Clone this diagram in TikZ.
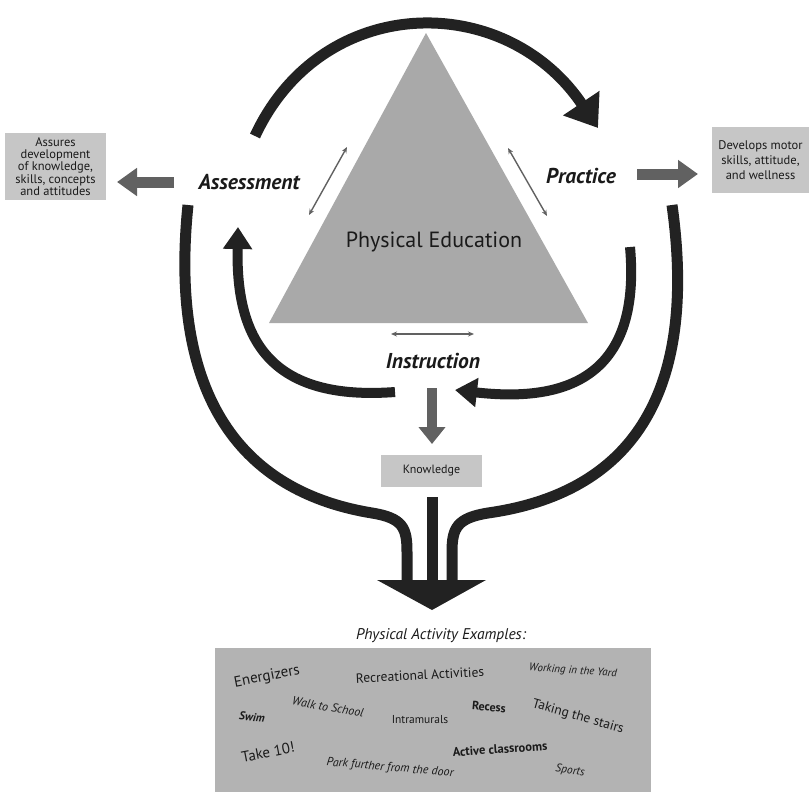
\documentclass[tikz,border=0pt]{standalone}
\usepackage{fontspec}
\setmainfont{PT Sans}
\usetikzlibrary{arrows.meta}
\definecolor{trif}{HTML}{A9A9A9}
\definecolor{boxf}{HTML}{C6C6C6}
\definecolor{bigbox}{HTML}{B3B3B3}
\definecolor{garr}{HTML}{616161}
\definecolor{blk}{HTML}{222222}
\definecolor{txt}{HTML}{1A1A1A}
\tikzset{
  fs/.style={font=\fontsize{#1}{#1}\selectfont},
  fsi/.style={font=\fontsize{#1}{#1}\selectfont\itshape},
  fsb/.style={font=\fontsize{#1}{#1}\selectfont\bfseries},
  fsbi/.style={font=\fontsize{#1}{#1}\selectfont\bfseries\itshape},
  keyword/.style={text=txt, fsbi=21.5, inner sep=0pt, anchor=base},
  sidebox/.style={fill=boxf, text=txt, align=center, inner sep=0pt},
  bigarrow/.style={draw=blk, line width=11pt},
  grayarr/.style={draw=garr, line width=11pt, -{Triangle[width=27pt,length=20pt]}},
  thinarr/.style={draw=garr, line width=1.4pt, {Stealth[length=6pt,width=5pt]}-{Stealth[length=6pt,width=5pt]}},
  ex/.style={text=txt, inner sep=0pt}
}
\begin{document}
\begin{tikzpicture}[x=1pt,y=-1pt]
\useasboundingbox (0,0) rectangle (809,793);
% triangle
\coordinate (apex) at (426,33);
\coordinate (bl) at (269,323);
\coordinate (br) at (588,323);
\fill[trif] (apex) -- (bl) -- (br) -- cycle;
\node[text=txt, fs=22, inner sep=0pt, anchor=base] (pe) at (434,247) {Physical Education};

% keywords
\node[keyword] (assess) at (249,189) {Assessment};
\node[keyword] (prac) at (581,183) {Practice};
\node[keyword] (instr) at (433,368) {Instruction};

% side boxes
\node[sidebox, minimum width=101pt, minimum height=67pt, font=\fontsize{12.5}{12.3}\selectfont] (lbox) at (55.5,166.5) {Assures\\development\\of knowledge,\\skills, concepts\\and attitudes};
\node[sidebox, minimum width=98pt, minimum height=66pt, font=\fontsize{12.5}{15}\selectfont] (rbox) at (760.5,160) {Develops motor\\skills, attitude,\\and wellness};
\node[sidebox, minimum width=101pt, minimum height=32pt, fs=12] (know) at (431.5,471) {Knowledge};

% gray arrows
\coordinate (lga1) at (174,182);
\coordinate (lga2) at (117,182);
\coordinate (rga1) at (637,174);
\coordinate (rga2) at (698,174);
\draw[grayarr] (lga1) -- (lga2);
\draw[grayarr] (rga1) -- (rga2);
\coordinate (ktop) at (432,388);
\coordinate (kbot) at (432,444);
\draw[draw=garr, line width=10pt, -{Triangle[width=26pt,length=17pt]}] (ktop) -- (kbot);

% thin double arrows
\coordinate (la1) at (347,147); \coordinate (la2) at (309,215);
\coordinate (ra1) at (508,148); \coordinate (ra2) at (547,216);
\coordinate (ba1) at (391,334); \coordinate (ba2) at (474,334);
\draw[thinarr] (la1) -- (la2);
\draw[thinarr] (ra1) -- (ra2);
\draw[thinarr] (ba1) -- (ba2);

% top arc
\coordinate (ta1) at (255,136);
\coordinate (ta2) at (598,128);
\draw[bigarrow, -{Triangle[width=42pt,length=30pt]}] (ta1) .. controls (322,-8) and (505,-10) .. (ta2);

% inner left
\coordinate (il1) at (395,392);
\coordinate (il2) at (238,227);
\draw[bigarrow, line width=10pt, -{Triangle[width=28pt,length=22pt]}] (il1) .. controls (262,402) and (236,330) .. (il2);

% inner right
\coordinate (ir1) at (630,247);
\coordinate (ir2) at (455,390);
\draw[bigarrow, line width=10pt, -{Triangle[width=28pt,length=22pt]}] (ir1) .. controls (642,382) and (560,402) .. (ir2);

% outer curves into big arrow
\coordinate (ol1) at (188,205);
\coordinate (or1) at (672,205);
\coordinate (mid1) at (432,497);
\coordinate (lend) at (407,584);
\coordinate (rend) at (452,584);
\coordinate (mend) at (432,584);
\draw[bigarrow] (ol1) .. controls (166,420) and (262,495) .. (372,513) .. controls (403,518) and (407,528) .. (407,552) -- (lend);
\draw[bigarrow] (or1) .. controls (702,420) and (608,496) .. (488,513) .. controls (457,518) and (452,528) .. (452,552) -- (rend);
\draw[bigarrow] (mid1) -- (mend);
\coordinate (hl) at (377,580);
\coordinate (hr) at (486,580);
\coordinate (ht) at (432,610);
\fill[blk] (hl) -- (hr) -- (ht) -- cycle;

% examples
\node[text=txt, fsi=15.5, inner sep=0pt, anchor=base] (pae) at (441,639) {Physical Activity Examples:};
\fill[bigbox] (215,648) rectangle (651,792);
\node[ex, fs=15, rotate=11] (e1) at (267,677) {Energizers};
\node[ex, fs=13.5, rotate=3] (e2) at (420,675) {Recreational Activities};
\node[ex, fsi=11, rotate=-4] (e3) at (573,671) {Working in the Yard};
\node[ex, fsbi=11.5, rotate=-5] (e4) at (252,717) {Swim};
\node[ex, fsi=12, rotate=-10] (e5) at (328,707) {Walk to School};
\node[ex, fs=11.5] (e6) at (420,720) {Intramurals};
\node[ex, fsb=12, rotate=-5] (e7) at (489,707) {Recess};
\node[ex, fs=13.5, rotate=-16] (e8) at (578,717) {Taking the stairs};
\node[ex, fs=15, rotate=11] (e9) at (268,752) {Take 10!};
\node[ex, fsb=12.5, rotate=4] (e10) at (500,749) {Active classrooms};
\node[ex, fsi=12, rotate=-5] (e11) at (390,768) {Park further from the door};
\node[ex, fsi=11.5, rotate=-8] (e12) at (570,771) {Sports};
\end{tikzpicture}
\end{document}
